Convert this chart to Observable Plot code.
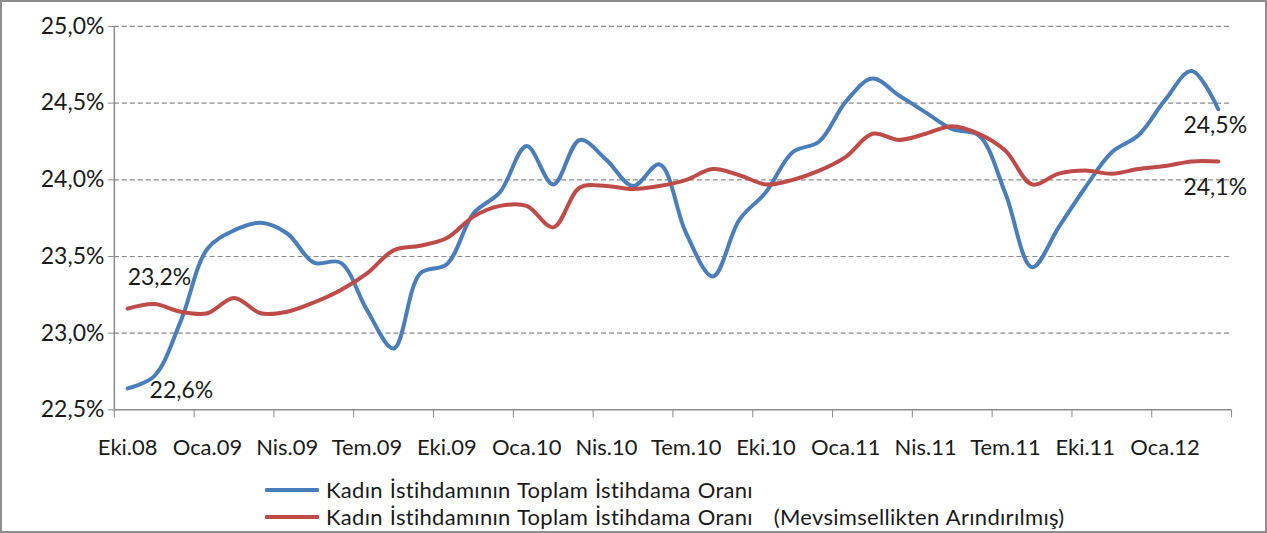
<!DOCTYPE html>
<html>
<head>
<meta charset="utf-8">
<script src="https://cdn.jsdelivr.net/npm/d3@7"></script>
<script src="https://cdn.jsdelivr.net/npm/@observablehq/plot@0.6"></script>
<style>
  html, body { margin: 0; padding: 0; background: #fff; }
  #frame { position: relative; width: 1267px; height: 533px; box-sizing: border-box; border: 2px solid #8e8e8e; overflow: hidden; font-family: Lato, "Open Sans", sans-serif; color: #1a1a1a; }
  #chart { position: absolute; left: -2px; top: -2px; }
  .leg { position: absolute; left: 263px; font-size: 22px; letter-spacing: 0.3px; word-spacing: 1px; white-space: pre; display: flex; align-items: center; }
  .leg .sw { display: inline-block; width: 54px; height: 4px; margin-right: 7px; border-radius: 1px; }
</style>
</head>
<body>
<div id="frame">
  <div id="chart"></div>
  <div class="leg" id="leg1" style="top:474px"><span class="sw" style="background:#4a7ebb"></span><span class="tx"></span></div>
  <div class="leg" id="leg2" style="top:501px"><span class="sw" style="background:#be4b48"></span><span class="tx"></span></div>
</div>
<script>
// Months (categories), Oct 2008 – Mar 2012
const months = [
  "Eki.08","Kas.08","Ara.08","Oca.09","Şub.09","Mar.09","Nis.09","May.09","Haz.09","Tem.09","Ağu.09","Eyl.09",
  "Eki.09","Kas.09","Ara.09","Oca.10","Şub.10","Mar.10","Nis.10","May.10","Haz.10","Tem.10","Ağu.10","Eyl.10",
  "Eki.10","Kas.10","Ara.10","Oca.11","Şub.11","Mar.11","Nis.11","May.11","Haz.11","Tem.11","Ağu.11","Eyl.11",
  "Eki.11","Kas.11","Ara.11","Oca.12","Şub.12","Mar.12"
];
// Women's share of total employment (%)
const rawValues = [
  22.64, 22.72, 23.08, 23.55, 23.67, 23.72, 23.65, 23.46, 23.46, 23.15, 22.90, 23.39,
  23.45, 23.78, 23.92, 24.22, 23.97, 24.26, 24.13, 23.96, 24.10, 23.65, 23.37, 23.74,
  23.92, 24.18, 24.25, 24.51, 24.66, 24.55, 24.44, 24.33, 24.29, 23.91, 23.43, 23.69,
  23.95, 24.18, 24.29, 24.52, 24.71, 24.46
];
// Seasonally adjusted (%)
const adjValues = [
  23.16, 23.19, 23.14, 23.13, 23.23, 23.13, 23.14, 23.20, 23.28, 23.39, 23.54, 23.57,
  23.62, 23.76, 23.83, 23.83, 23.69, 23.95, 23.96, 23.94, 23.96, 24.00, 24.07, 24.03,
  23.97, 24.00, 24.06, 24.15, 24.30, 24.26, 24.30, 24.35, 24.30, 24.19, 23.97, 24.04,
  24.06, 24.04, 24.07, 24.09, 24.12, 24.12
];
const seriesNames = [
  "Kadın İstihdamının Toplam İstihdama Oranı",
  "Kadın İstihdamının Toplam İstihdama Oranı   (Mevsimsellikten Arındırılmış)"
];
const yTicks = [22.5, 23.0, 23.5, 24.0, 24.5, 25.0];
const xTickLabels = ["Eki.08","Oca.09","Nis.09","Tem.09","Eki.09","Oca.10","Nis.10","Tem.10","Eki.10","Oca.11","Nis.11","Tem.11","Eki.11","Oca.12"];

const blue = "#4a7ebb", red = "#be4b48", axisGray = "#8c8c8c";
const fmt = v => v.toFixed(1).replace(".", ",") + "%";

const rawData = months.map((m, i) => ({i, m, v: rawValues[i]}));
const adjData = months.map((m, i) => ({i, m, v: adjValues[i]}));
const labelIdx = xTickLabels.map(l => months.indexOf(l));
const boundaries = d3.range(-0.5, months.length, 3);
const n = months.length;

const chart = Plot.plot({
  width: 1267,
  height: 470,
  marginLeft: 114,
  marginRight: 34,
  marginTop: 26,
  marginBottom: 60,
  style: {fontFamily: "Lato, 'Open Sans', sans-serif", color: "#1a1a1a", background: "transparent"},
  x: {type: "linear", domain: [-0.5, n - 0.5], label: null},
  y: {domain: [22.5, 25.0], label: null},
  marks: [
    Plot.ruleY(yTicks.filter(v => v > 22.5), {stroke: "#8a8a8a", strokeWidth: 1.2, strokeDasharray: "5,3"}),
    Plot.axisY({ticks: yTicks, tickFormat: fmt, tickSize: 6, tickPadding: 4, fontSize: 23, stroke: axisGray, fill: "#1a1a1a"}),
    Plot.axisX({ticks: boundaries, tickSize: 8, tickFormat: () => "", stroke: axisGray}),
    Plot.axisX({ticks: labelIdx, tickSize: 0, tickPadding: 30, fontSize: 22, tickFormat: i => months[i], fill: "#1a1a1a"}),
    Plot.ruleX([-0.5], {stroke: axisGray, strokeWidth: 1.5}),
    Plot.ruleY([22.5], {stroke: axisGray, strokeWidth: 1.5}),
    Plot.line(rawData, {x: "i", y: "v", stroke: blue, strokeWidth: 4, curve: "catmull-rom"}),
    Plot.line(adjData, {x: "i", y: "v", stroke: red, strokeWidth: 4, curve: "catmull-rom"}),
    Plot.text([adjData[0]], {x: "i", y: "v", text: d => fmt(d.v), textAnchor: "start", dx: 0, dy: -31, fontSize: 23, fill: "#1a1a1a"}),
    Plot.text([rawData[0]], {x: "i", y: "v", text: d => fmt(d.v), textAnchor: "start", dx: 22, dy: 2, fontSize: 23, fill: "#1a1a1a"}),
    Plot.text([rawData[n - 1]], {x: "i", y: "v", text: d => fmt(d.v), textAnchor: "middle", dx: -3, dy: 16, fontSize: 23, fill: "#1a1a1a"}),
    Plot.text([adjData[n - 1]], {x: "i", y: "v", text: d => fmt(d.v), textAnchor: "middle", dx: -3, dy: 26, fontSize: 23, fill: "#1a1a1a"})
  ]
});
document.getElementById("chart").appendChild(chart);
document.querySelector("#leg1 .tx").textContent = seriesNames[0];
document.querySelector("#leg2 .tx").textContent = seriesNames[1];
</script>
</body>
</html>
